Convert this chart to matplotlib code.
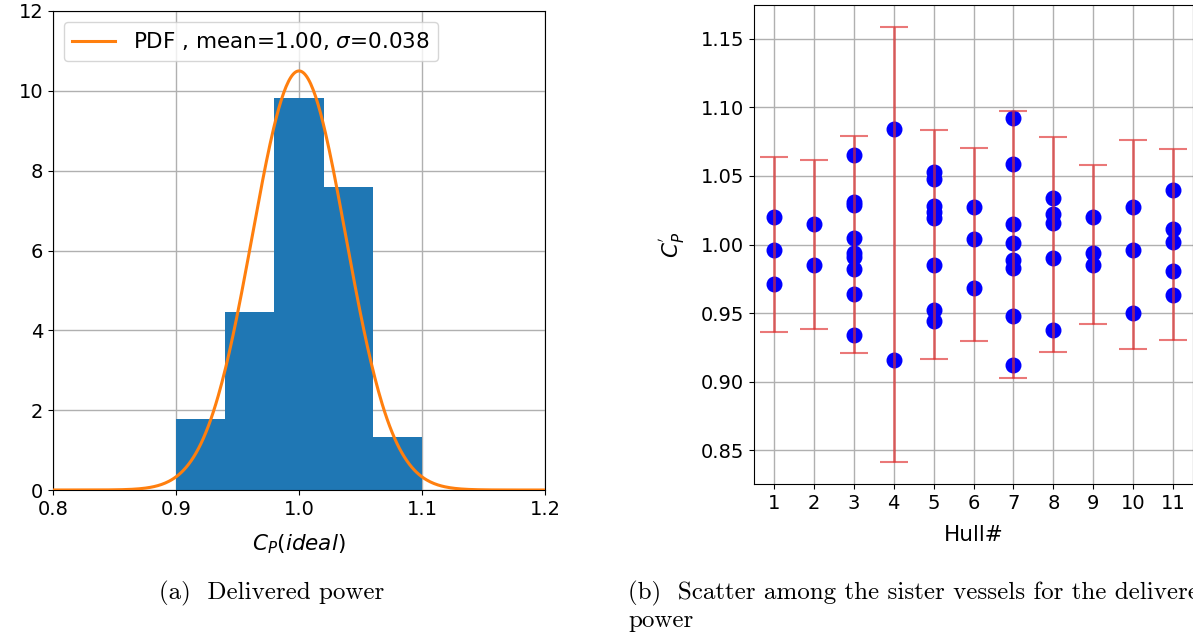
import numpy as np
import matplotlib
matplotlib.use("Agg")
import matplotlib.pyplot as plt

# ---- data ----
bin_edges = [0.90, 0.94, 0.98, 1.02, 1.06, 1.10]
bin_counts = [4, 10, 22, 17, 3]
pdf_mean = 1.00
pdf_sigma = 0.038

hulls = [1, 2, 3, 4, 5, 6, 7, 8, 9, 10, 11]
hull_points = [
    [1.020, 0.996, 0.971],
    [1.015, 0.985],
    [1.065, 1.031, 1.029, 1.005, 0.994, 0.991, 0.982, 0.964, 0.934],
    [1.084, 0.916],
    [1.053, 1.048, 1.028, 1.024, 1.019, 0.985, 0.952, 0.944],
    [1.027, 1.004, 0.968],
    [1.092, 1.059, 1.015, 1.001, 0.989, 0.983, 0.948, 0.912],
    [1.034, 1.022, 1.016, 0.990, 0.938],
    [1.020, 0.994, 0.985],
    [1.027, 0.996, 0.950],
    [1.040, 1.011, 1.002, 0.981, 0.963],
]
err_center = [1.0] * 11
err_half = [0.064, 0.0615, 0.079, 0.1586, 0.0835, 0.070, 0.0973, 0.0783, 0.0582, 0.0763, 0.0695]

W, H = 1193, 636
fig = plt.figure(figsize=(W / 100, H / 100), dpi=100)
fs_tick = 14
fs_lab = 15.5

def ax_rect(l, t, r, b):
    return [l / W, (H - b) / H, (r - l) / W, (b - t) / H]

# ---- left: histogram + pdf ----
ax1 = fig.add_axes(ax_rect(53, 11, 545, 490))
n_total = sum(bin_counts)
widths = np.diff(bin_edges)
dens = [c / (n_total * w) for c, w in zip(bin_counts, widths)]
ax1.hist(bin_edges[:-1], bins=bin_edges, weights=dens, color="#1f77b4", zorder=2)
xs = np.linspace(0.8, 1.2, 400)
pdf = np.exp(-0.5 * ((xs - pdf_mean) / pdf_sigma) ** 2) / (pdf_sigma * np.sqrt(2 * np.pi))
ax1.plot(xs, pdf, color="#ff7f0e", lw=2.2, zorder=3,
         label=r"PDF , mean=1.00, $\sigma$=0.038")
ax1.set_xlim(0.8, 1.2)
ax1.set_ylim(0, 12)
ax1.set_xticks([0.8, 0.9, 1.0, 1.1, 1.2])
ax1.set_yticks([0, 2, 4, 6, 8, 10, 12])
ax1.grid(True, color="#b0b0b0", lw=1.0, zorder=0)
ax1.set_axisbelow(True)
ax1.tick_params(labelsize=fs_tick)
ax1.set_xlabel(r"$C_P(ideal)$", fontsize=fs_lab, labelpad=10)
ax1.legend(loc="upper left", fontsize=fs_lab, handlelength=2.0)

# ---- right: scatter among hulls ----
ax2 = fig.add_axes(ax_rect(754, 5, 1193, 484))
for h, pts in zip(hulls, hull_points):
    ax2.scatter([h] * len(pts), pts, s=110, color="blue", zorder=3)
ax2.errorbar(hulls, err_center, yerr=err_half, fmt="none", ecolor="#e03030",
             alpha=0.65, elinewidth=2, capsize=10, capthick=1.5, zorder=4)
ax2.set_xticks(hulls)
ax2.set_yticks([0.85, 0.90, 0.95, 1.00, 1.05, 1.10, 1.15])
ax2.grid(True, color="#b0b0b0", lw=1.0, zorder=0)
ax2.set_axisbelow(True)
ax2.tick_params(labelsize=fs_tick)
ax2.set_xlabel("Hull#", fontsize=fs_lab, labelpad=9)
ax2.set_ylabel(r"$C_P^{'}$", fontsize=fs_lab, labelpad=10)

# ---- captions ----
cap_font = dict(family="cmr10", fontsize=18)
fig.text(272 / W, 1 - 593 / H, "(a)  Delivered power", ha="center", va="center", **cap_font)
fig.text(628 / W, 1 - 593 / H, "(b)  Scatter among the sister vessels for the delivered",
         ha="left", va="center", **cap_font)
fig.text(628 / W, 1 - 621 / H, "power", ha="left", va="center", **cap_font)

fig.savefig("out.png", dpi=100)
